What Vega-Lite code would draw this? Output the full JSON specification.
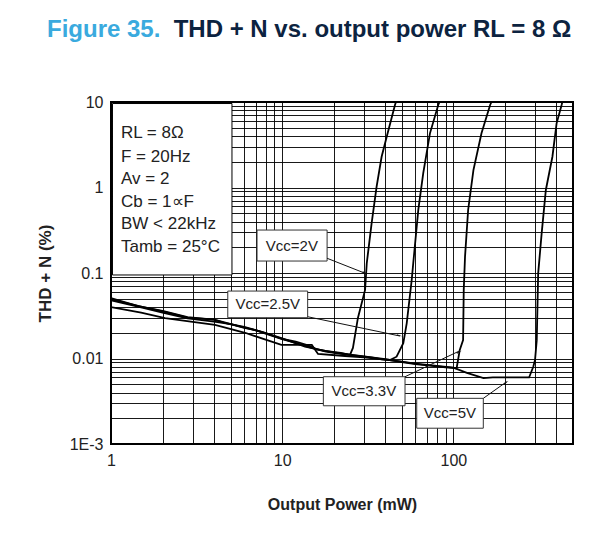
{
  "$schema": "https://vega.github.io/schema/vega-lite/v6.json",
  "width": 462,
  "height": 342,
  "autosize": {"type": "none"},
  "padding": {"left": 111, "top": 102, "right": 25, "bottom": 110},
  "background": "white",
  "title": {
    "text": "Figure 35.",
    "subtitle": "\u200b\u00a0\u00a0\u00a0\u00a0\u00a0\u00a0\u00a0\u00a0\u00a0\u00a0\u00a0\u00a0\u00a0\u00a0\u00a0\u00a0\u00a0\u00a0\u00a0THD + N vs. output power RL = 8 Ω",
    "anchor": "start",
    "frame": "group",
    "dx": -64,
    "offset": 52,
    "font": "Liberation Sans",
    "fontSize": 24,
    "fontWeight": "bold",
    "color": "#3aaade",
    "subtitleFont": "Liberation Sans",
    "subtitleFontSize": 24,
    "subtitleFontWeight": "bold",
    "subtitleColor": "#0c2340",
    "subtitlePadding": -24
  },
  "config": {
    "font": "Liberation Sans",
    "view": {"stroke": "#000", "strokeWidth": 2},
    "axis": {
      "domain": false,
      "ticks": false,
      "grid": true,
      "gridColor": "#000",
      "gridWidth": 1,
      "gridOpacity": 0.9,
      "labelFont": "Liberation Sans",
      "labelFontSize": 16,
      "labelColor": "#222",
      "labelOverlap": false,
      "labelFlush": false,
      "labelPadding": 8,
      "titleFont": "Liberation Sans",
      "titleFontSize": 16,
      "titleFontWeight": "bold",
      "titleColor": "#222"
    }
  },
  "datasets": {
    "curves": [
      {"series": "2V", "power": 1, "thd": 0.051},
      {"series": "2V", "power": 1.44, "thd": 0.041},
      {"series": "2V", "power": 2, "thd": 0.036},
      {"series": "2V", "power": 2.8, "thd": 0.0305},
      {"series": "2V", "power": 4, "thd": 0.0285},
      {"series": "2V", "power": 5.5, "thd": 0.024},
      {"series": "2V", "power": 7.6, "thd": 0.0205},
      {"series": "2V", "power": 10, "thd": 0.0172},
      {"series": "2V", "power": 13.6, "thd": 0.0138},
      {"series": "2V", "power": 17.8, "thd": 0.0123},
      {"series": "2V", "power": 22, "thd": 0.0116},
      {"series": "2V", "power": 24.9, "thd": 0.011},
      {"series": "2V", "power": 25.9, "thd": 0.0133},
      {"series": "2V", "power": 27.7, "thd": 0.0298},
      {"series": "2V", "power": 30.5, "thd": 0.0633},
      {"series": "2V", "power": 31.2, "thd": 0.13},
      {"series": "2V", "power": 33.3, "thd": 0.381},
      {"series": "2V", "power": 35.6, "thd": 1.02},
      {"series": "2V", "power": 38.1, "thd": 2.29},
      {"series": "2V", "power": 40.8, "thd": 3.93},
      {"series": "2V", "power": 45.6, "thd": 9.23},
      {"series": "2V", "power": 46.2, "thd": 10},

      {"series": "2.5V", "power": 1, "thd": 0.049},
      {"series": "2.5V", "power": 1.5, "thd": 0.0405},
      {"series": "2.5V", "power": 2, "thd": 0.0355},
      {"series": "2.5V", "power": 2.8, "thd": 0.030},
      {"series": "2.5V", "power": 3.5, "thd": 0.029},
      {"series": "2.5V", "power": 4, "thd": 0.0285},
      {"series": "2.5V", "power": 4.8, "thd": 0.0255},
      {"series": "2.5V", "power": 6, "thd": 0.0235},
      {"series": "2.5V", "power": 7, "thd": 0.0215},
      {"series": "2.5V", "power": 8, "thd": 0.0195},
      {"series": "2.5V", "power": 10, "thd": 0.0168},
      {"series": "2.5V", "power": 12, "thd": 0.0152},
      {"series": "2.5V", "power": 15, "thd": 0.0132},
      {"series": "2.5V", "power": 18, "thd": 0.012},
      {"series": "2.5V", "power": 22, "thd": 0.0113},
      {"series": "2.5V", "power": 27, "thd": 0.0108},
      {"series": "2.5V", "power": 33, "thd": 0.0103},
      {"series": "2.5V", "power": 38, "thd": 0.0098},
      {"series": "2.5V", "power": 42.6, "thd": 0.0096},
      {"series": "2.5V", "power": 46.6, "thd": 0.0105},
      {"series": "2.5V", "power": 51, "thd": 0.0151},
      {"series": "2.5V", "power": 53.4, "thd": 0.0258},
      {"series": "2.5V", "power": 57.1, "thd": 0.0828},
      {"series": "2.5V", "power": 58.3, "thd": 0.13},
      {"series": "2.5V", "power": 62.4, "thd": 0.546},
      {"series": "2.5V", "power": 66.7, "thd": 1.47},
      {"series": "2.5V", "power": 73, "thd": 4.3},
      {"series": "2.5V", "power": 81.6, "thd": 9.23},
      {"series": "2.5V", "power": 83, "thd": 10},

      {"series": "3.3V", "power": 1, "thd": 0.048},
      {"series": "3.3V", "power": 1.5, "thd": 0.0395},
      {"series": "3.3V", "power": 2, "thd": 0.0345},
      {"series": "3.3V", "power": 2.8, "thd": 0.0295},
      {"series": "3.3V", "power": 4, "thd": 0.027},
      {"series": "3.3V", "power": 5, "thd": 0.0252},
      {"series": "3.3V", "power": 6, "thd": 0.0228},
      {"series": "3.3V", "power": 7, "thd": 0.0215},
      {"series": "3.3V", "power": 8, "thd": 0.0198},
      {"series": "3.3V", "power": 10, "thd": 0.017},
      {"series": "3.3V", "power": 12, "thd": 0.0158},
      {"series": "3.3V", "power": 14, "thd": 0.0143},
      {"series": "3.3V", "power": 16, "thd": 0.0128},
      {"series": "3.3V", "power": 20, "thd": 0.0118},
      {"series": "3.3V", "power": 25, "thd": 0.0111},
      {"series": "3.3V", "power": 30, "thd": 0.0106},
      {"series": "3.3V", "power": 40, "thd": 0.0098},
      {"series": "3.3V", "power": 50, "thd": 0.0091},
      {"series": "3.3V", "power": 60, "thd": 0.0086},
      {"series": "3.3V", "power": 75, "thd": 0.0082},
      {"series": "3.3V", "power": 90, "thd": 0.0079},
      {"series": "3.3V", "power": 104.5, "thd": 0.0077},
      {"series": "3.3V", "power": 109, "thd": 0.0126},
      {"series": "3.3V", "power": 114, "thd": 0.0164},
      {"series": "3.3V", "power": 115, "thd": 0.0633},
      {"series": "3.3V", "power": 117, "thd": 0.155},
      {"series": "3.3V", "power": 122, "thd": 0.546},
      {"series": "3.3V", "power": 131, "thd": 1.6},
      {"series": "3.3V", "power": 146, "thd": 4.3},
      {"series": "3.3V", "power": 164, "thd": 9.23},
      {"series": "3.3V", "power": 167, "thd": 10},

      {"series": "5V", "power": 1, "thd": 0.04},
      {"series": "5V", "power": 1.5, "thd": 0.0345},
      {"series": "5V", "power": 2.07, "thd": 0.0297},
      {"series": "5V", "power": 3, "thd": 0.0268},
      {"series": "5V", "power": 4.05, "thd": 0.0247},
      {"series": "5V", "power": 6.07, "thd": 0.02},
      {"series": "5V", "power": 8, "thd": 0.0166},
      {"series": "5V", "power": 9.9, "thd": 0.0144},
      {"series": "5V", "power": 14.9, "thd": 0.0144},
      {"series": "5V", "power": 16.2, "thd": 0.0113},
      {"series": "5V", "power": 23.3, "thd": 0.0107},
      {"series": "5V", "power": 30, "thd": 0.0103},
      {"series": "5V", "power": 40, "thd": 0.0097},
      {"series": "5V", "power": 50, "thd": 0.0092},
      {"series": "5V", "power": 60, "thd": 0.0087},
      {"series": "5V", "power": 80, "thd": 0.0082},
      {"series": "5V", "power": 100, "thd": 0.0078},
      {"series": "5V", "power": 120, "thd": 0.0068},
      {"series": "5V", "power": 150, "thd": 0.0059},
      {"series": "5V", "power": 170, "thd": 0.006},
      {"series": "5V", "power": 205, "thd": 0.006},
      {"series": "5V", "power": 277, "thd": 0.006},
      {"series": "5V", "power": 293, "thd": 0.008},
      {"series": "5V", "power": 300, "thd": 0.0096},
      {"series": "5V", "power": 307, "thd": 0.0164},
      {"series": "5V", "power": 313, "thd": 0.099},
      {"series": "5V", "power": 328, "thd": 0.291},
      {"series": "5V", "power": 347, "thd": 0.935},
      {"series": "5V", "power": 379, "thd": 2.29},
      {"series": "5V", "power": 401, "thd": 5.63},
      {"series": "5V", "power": 429, "thd": 9.23},
      {"series": "5V", "power": 433, "thd": 10}
    ],
    "info": [
      {"line": "RL = 8Ω", "power": 1.144, "thd": 4.34},
      {"line": "F = 20Hz", "power": 1.144, "thd": 2.275},
      {"line": "Av = 2", "power": 1.144, "thd": 1.257},
      {"line": "Cb = 1∝F", "power": 1.144, "thd": 0.677},
      {"line": "BW < 22kHz", "power": 1.144, "thd": 0.374},
      {"line": "Tamb = 25°C", "power": 1.144, "thd": 0.2014}
    ],
    "infobox": [
      {"power": 1.02, "power2": 5.09, "thd": 0.0948, "thd2": 9.6}
    ],
    "boxes": [
      {"label": "Vcc=2V", "power": 7.13, "power2": 18.3, "thd": 0.138, "thd2": 0.318},
      {"label": "Vcc=2.5V", "power": 4.81, "power2": 14.09, "thd": 0.03, "thd2": 0.0615},
      {"label": "Vcc=3.3V", "power": 17.4, "power2": 52.2, "thd": 0.0028, "thd2": 0.00612},
      {"label": "Vcc=5V", "power": 61.1, "power2": 149.6, "thd": 0.00153, "thd2": 0.00342}
    ],
    "labels": [
      {"label": "Vcc=2V", "power": 11.4, "thd": 0.207},
      {"label": "Vcc=2.5V", "power": 8.23, "thd": 0.0431},
      {"label": "Vcc=3.3V", "power": 30.0, "thd": 0.00417},
      {"label": "Vcc=5V", "power": 95.5, "thd": 0.00229}
    ],
    "arrows": [
      {"label": "Vcc=2V", "power": 18.3, "thd": 0.1486, "power2": 30.5, "thd2": 0.0993},
      {"label": "Vcc=2.5V", "power": 14.09, "thd": 0.0308, "power2": 48.8, "thd2": 0.0183},
      {"label": "Vcc=3.3V", "power": 52.2, "thd": 0.00612, "power2": 109, "thd2": 0.0123},
      {"label": "Vcc=5V", "power": 149.6, "thd": 0.00342, "power2": 205, "thd2": 0.00535}
    ],
    "heads": [
      {"label": "Vcc=2V", "power": 30.2, "thd": 0.101},
      {"label": "Vcc=2.5V", "power": 47.9, "thd": 0.0186},
      {"label": "Vcc=3.3V", "power": 107, "thd": 0.0118},
      {"label": "Vcc=5V", "power": 202, "thd": 0.0052}
    ]
  },
  "encoding": {
    "x": {
      "field": "power", "type": "quantitative",
      "scale": {"type": "log", "domain": [1, 500], "nice": false},
      "axis": {
        "title": "Output Power (mW)",
        "titlePadding": 28,
        "values": [1,2,3,4,5,6,7,8,9,10,20,30,40,50,60,70,80,90,100,200,300,400,500],
        "labelExpr": "datum.value == 1 ? '1' : datum.value == 10 ? '10' : datum.value == 100 ? '100' : ''"
      }
    },
    "y": {
      "field": "thd", "type": "quantitative",
      "scale": {"type": "log", "domain": [0.001, 10], "nice": false},
      "axis": {
        "title": "THD + N (%)",
        "titlePadding": 15,
        "titleFontSize": 17,
        "values": [0.001,0.002,0.003,0.004,0.005,0.006,0.007,0.008,0.009,0.01,0.02,0.03,0.04,0.05,0.06,0.07,0.08,0.09,0.1,0.2,0.3,0.4,0.5,0.6,0.7,0.8,0.9,1,2,3,4,5,6,7,8,9,10],
        "labelExpr": "datum.value == 0.001 ? '1E-3' : datum.value == 0.01 ? '0.01' : datum.value == 0.1 ? '0.1' : datum.value == 1 ? '1' : datum.value == 10 ? '10' : ''"
      }
    }
  },
  "layer": [
    {
      "data": {"name": "curves"},
      "mark": {"type": "line", "color": "#000", "strokeWidth": 1.8, "clip": true},
      "encoding": {
        "detail": {"field": "series", "type": "nominal"}
      }
    },
    {
      "data": {"name": "infobox"},
      "mark": {"type": "rect", "fill": "#fff", "stroke": "#000", "strokeWidth": 1},
      "encoding": {
        "x2": {"field": "power2"},
        "y2": {"field": "thd2"}
      }
    },
    {
      "data": {"name": "info"},
      "mark": {"type": "text", "align": "left", "baseline": "middle", "fontSize": 17, "font": "Liberation Sans", "color": "#222"},
      "encoding": {
        "text": {"field": "line"}
      }
    },
    {
      "data": {"name": "boxes"},
      "mark": {"type": "rect", "fill": "#fff", "stroke": "#333", "strokeWidth": 1},
      "encoding": {
        "x2": {"field": "power2"},
        "y2": {"field": "thd2"}
      }
    },
    {
      "data": {"name": "labels"},
      "mark": {"type": "text", "align": "center", "baseline": "middle", "fontSize": 15, "font": "Liberation Sans", "color": "#222"},
      "encoding": {
        "text": {"field": "label"}
      }
    },
    {
      "data": {"name": "arrows"},
      "mark": {"type": "rule", "color": "#111", "strokeWidth": 1},
      "encoding": {
        "x2": {"field": "power2"},
        "y2": {"field": "thd2"}
      }
    },
    {
      "data": {"name": "heads"},
      "transform": [{"filter": "datum.label == 'Vcc=2V'"}],
      "mark": {"type": "point", "shape": "wedge", "filled": true, "color": "#111", "size": 40, "angle": 111, "opacity": 1},
      "encoding": {}
    },
    {
      "data": {"name": "heads"},
      "transform": [{"filter": "datum.label == 'Vcc=2.5V'"}],
      "mark": {"type": "point", "shape": "wedge", "filled": true, "color": "#111", "size": 40, "angle": 102, "opacity": 1},
      "encoding": {}
    },
    {
      "data": {"name": "heads"},
      "transform": [{"filter": "datum.label == 'Vcc=3.3V'"}],
      "mark": {"type": "point", "shape": "wedge", "filled": true, "color": "#111", "size": 40, "angle": 65, "opacity": 1},
      "encoding": {}
    },
    {
      "data": {"name": "heads"},
      "transform": [{"filter": "datum.label == 'Vcc=5V'"}],
      "mark": {"type": "point", "shape": "wedge", "filled": true, "color": "#111", "size": 40, "angle": 55, "opacity": 1},
      "encoding": {}
    }
  ]
}
